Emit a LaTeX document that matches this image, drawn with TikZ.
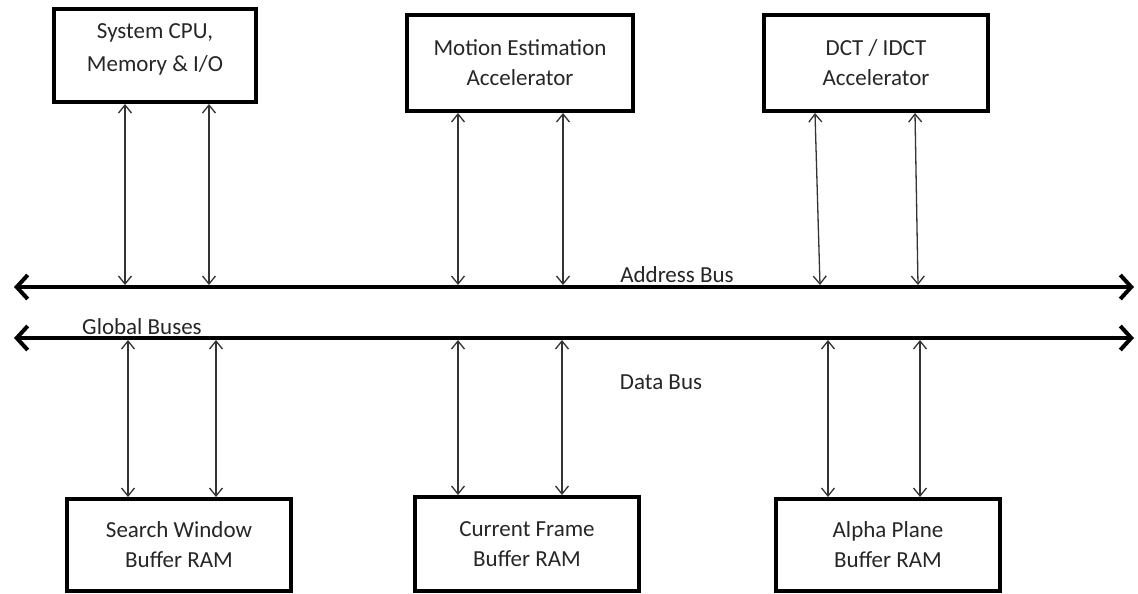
\documentclass[tikz,border=0pt]{standalone}
\usepackage{fontspec}
\setmainfont{Carlito}
\usetikzlibrary{arrows.meta}
\begin{document}
\begin{tikzpicture}[x=1pt,y=-1pt,
  unit/.style={draw,line width=4pt,align=center,inner sep=0pt,
    font=\fontsize{23}{30}\selectfont,text=black!85},
  bus/.style={line width=4pt,
    {Straight Barb[length=11pt,width=24pt,line width=4pt]}-{Straight Barb[length=11pt,width=24pt,line width=4pt]}},
  link/.style={line width=1.3pt,draw=black!80,
    {Straight Barb[length=8pt,width=13pt]}-{Straight Barb[length=8pt,width=13pt]}},
  lbl/.style={font=\fontsize{23}{28}\selectfont,text=black!85}]
\useasboundingbox (0,0) rectangle (1138,594);
% processing units
\node[unit,minimum width=202,minimum height=93,text depth=15pt] (cpu) at (155,55.5) {System CPU,\\[3pt]Memory \& I/O};
\node[unit,minimum width=226,minimum height=96] (mea) at (520,63) {Motion Estimation\\Accelerator};
\node[unit,minimum width=224,minimum height=96] (dct) at (876,63) {DCT / IDCT\\Accelerator};
% buffer memories
\node[unit,minimum width=224,minimum height=92] (swb) at (179,545) {Search Window\\Buffer RAM};
\node[unit,minimum width=224,minimum height=94] (cfb) at (527,544) {Current Frame\\Buffer RAM};
\node[unit,minimum width=224,minimum height=92] (apb) at (888,545) {Alpha Plane\\Buffer RAM};
% global buses
\coordinate (addrL) at (14,287);
\coordinate (addrR) at (1134,287);
\coordinate (dataL) at (14,338);
\coordinate (dataR) at (1134,338);
\coordinate (addrT) at (0,285);
\coordinate (dataB) at (0,340);
\draw[bus] (addrL) -- (addrR);
\draw[bus] (dataL) -- (dataR);
\node[lbl] (addrtxt) at (677,275) {Address Bus};
\node[lbl] (globtxt) at (142,327) {Global Buses};
\node[lbl] (datatxt) at (661,382) {Data Bus};
% links to the address bus
\foreach \x in {125,209}
  \draw[link] (\x,0 |- cpu.south) -- (\x,0 |- addrT);
\foreach \x in {458,563}
  \draw[link] (\x,0 |- mea.south) -- (\x,0 |- addrT);
\draw[link] (815,0 |- dct.south) -- (820,0 |- addrT);
\draw[link] (915,0 |- dct.south) -- (918,0 |- addrT);
% links to the data bus
\foreach \x in {128,216}
  \draw[link] (\x,0 |- dataB) -- (\x,0 |- swb.north);
\foreach \x in {458,562}
  \draw[link] (\x,0 |- dataB) -- (\x,0 |- cfb.north);
\foreach \x in {828,920}
  \draw[link] (\x,0 |- dataB) -- (\x,0 |- apb.north);
\end{tikzpicture}
\end{document}
